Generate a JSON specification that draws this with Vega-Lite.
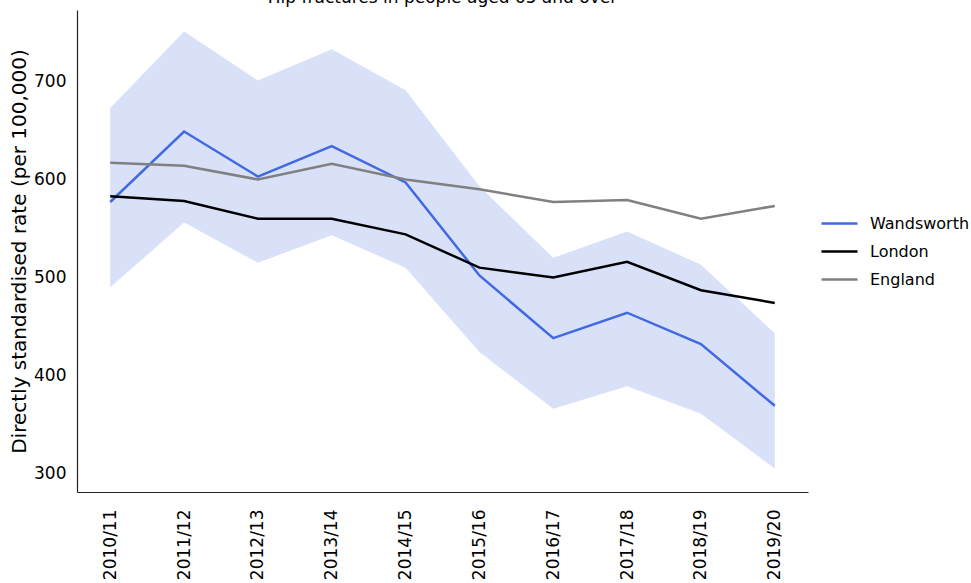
{
  "$schema": "https://vega.github.io/schema/vega-lite/v6.json",
  "width": 731,
  "height": 482,
  "autosize": {"type": "none"},
  "padding": {"left": 77, "top": 10, "right": 163, "bottom": 91},
  "background": "white",
  "title": {"text": "Hip fractures in people aged 65 and over", "fontSize": 17, "font": "DejaVu Sans", "fontWeight": "normal", "color": "black", "offset": 3, "anchor": "middle"},
  "config": {
    "view": {"stroke": null},
    "font": "DejaVu Sans",
    "axis": {"grid": false, "ticks": false, "domainColor": "#222222", "domainWidth": 1.2, "labelFont": "DejaVu Sans", "labelFontSize": 17, "labelColor": "black", "titleFont": "DejaVu Sans", "titleFontWeight": "normal", "titleColor": "black"}
  },
  "datasets": {
    "ci": [
      {"year": "2010/11", "lower": 490, "upper": 673},
      {"year": "2011/12", "lower": 556, "upper": 751},
      {"year": "2012/13", "lower": 515, "upper": 701},
      {"year": "2013/14", "lower": 543, "upper": 733},
      {"year": "2014/15", "lower": 510, "upper": 691},
      {"year": "2015/16", "lower": 424, "upper": 593},
      {"year": "2016/17", "lower": 366, "upper": 520},
      {"year": "2017/18", "lower": 389, "upper": 547},
      {"year": "2018/19", "lower": 361, "upper": 513},
      {"year": "2019/20", "lower": 305, "upper": 443}
    ],
    "rates": [
      {"year": "2010/11", "area": "Wandsworth", "rate": 577},
      {"year": "2011/12", "area": "Wandsworth", "rate": 649},
      {"year": "2012/13", "area": "Wandsworth", "rate": 603},
      {"year": "2013/14", "area": "Wandsworth", "rate": 634},
      {"year": "2014/15", "area": "Wandsworth", "rate": 597},
      {"year": "2015/16", "area": "Wandsworth", "rate": 502},
      {"year": "2016/17", "area": "Wandsworth", "rate": 438},
      {"year": "2017/18", "area": "Wandsworth", "rate": 464},
      {"year": "2018/19", "area": "Wandsworth", "rate": 432},
      {"year": "2019/20", "area": "Wandsworth", "rate": 369},
      {"year": "2010/11", "area": "London", "rate": 583},
      {"year": "2011/12", "area": "London", "rate": 578},
      {"year": "2012/13", "area": "London", "rate": 560},
      {"year": "2013/14", "area": "London", "rate": 560},
      {"year": "2014/15", "area": "London", "rate": 544},
      {"year": "2015/16", "area": "London", "rate": 510},
      {"year": "2016/17", "area": "London", "rate": 500},
      {"year": "2017/18", "area": "London", "rate": 516},
      {"year": "2018/19", "area": "London", "rate": 487},
      {"year": "2019/20", "area": "London", "rate": 474},
      {"year": "2010/11", "area": "England", "rate": 617},
      {"year": "2011/12", "area": "England", "rate": 614},
      {"year": "2012/13", "area": "England", "rate": 600},
      {"year": "2013/14", "area": "England", "rate": 616},
      {"year": "2014/15", "area": "England", "rate": 600},
      {"year": "2015/16", "area": "England", "rate": 590},
      {"year": "2016/17", "area": "England", "rate": 577},
      {"year": "2017/18", "area": "England", "rate": 579},
      {"year": "2018/19", "area": "England", "rate": 560},
      {"year": "2019/20", "area": "England", "rate": 573}
    ]
  },
  "layer": [
    {
      "data": {"name": "ci"},
      "mark": {"type": "area", "color": "#4169E1", "opacity": 0.2},
      "encoding": {
        "x": {"field": "year", "type": "ordinal", "scale": {"type": "point", "padding": 0.45}, "axis": {"title": null, "labelAngle": -90, "labelPadding": 17}},
        "y": {"field": "lower", "type": "quantitative", "scale": {"domain": [281, 773], "nice": false, "zero": false}, "axis": {"values": [300, 400, 500, 600, 700], "title": "Directly standardised rate (per 100,000)", "titleFontSize": 20, "labelPadding": 11, "titlePadding": 4}},
        "y2": {"field": "upper"}
      }
    },
    {
      "data": {"name": "rates"},
      "mark": {"type": "line", "strokeWidth": 2.5},
      "encoding": {
        "x": {"field": "year", "type": "ordinal"},
        "y": {"field": "rate", "type": "quantitative"},
        "color": {"field": "area", "type": "nominal", "sort": ["Wandsworth", "London", "England"], "scale": {"domain": ["Wandsworth", "London", "England"], "range": ["#4169E1", "#000000", "#808080"]},
          "legend": {"title": null, "orient": "none", "legendX": 743, "legendY": 194, "symbolType": "stroke", "symbolSize": 1296, "symbolStrokeWidth": 2.5, "labelFontSize": 16, "labelFont": "DejaVu Sans", "labelColor": "black", "labelOffset": 11, "rowPadding": -2}
        }
      }
    }
  ]
}
